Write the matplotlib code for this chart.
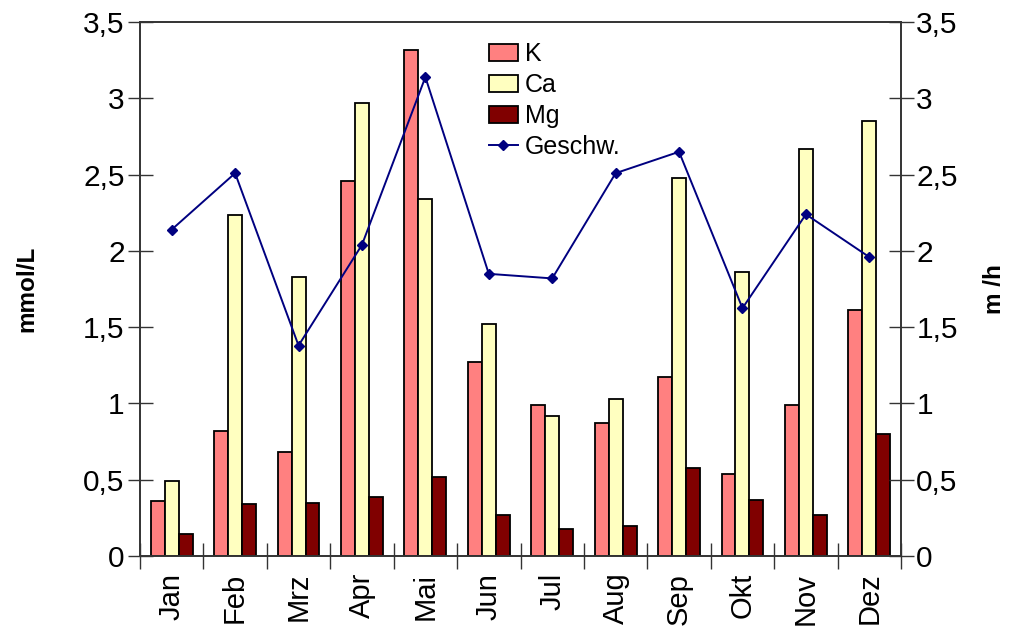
import numpy as np
import matplotlib
matplotlib.use('Agg')
import matplotlib.pyplot as plt
from matplotlib.ticker import FuncFormatter

plt.rcParams['font.family'] = ['Liberation Sans', 'DejaVu Sans']

months = ['Jan', 'Feb', 'Mrz', 'Apr', 'Mai', 'Jun', 'Jul', 'Aug', 'Sep', 'Okt', 'Nov', 'Dez']
k_vals = [0.36, 0.82, 0.68, 2.46, 3.32, 1.27, 0.99, 0.87, 1.175, 0.535, 0.99, 1.61]
ca_vals = [0.49, 2.235, 1.83, 2.97, 2.34, 1.52, 0.92, 1.03, 2.48, 1.86, 2.67, 2.85]
mg_vals = [0.144, 0.34, 0.35, 0.39, 0.52, 0.27, 0.18, 0.20, 0.58, 0.37, 0.27, 0.80]
speed = [2.14, 2.51, 1.38, 2.04, 3.14, 1.85, 1.82, 2.51, 2.65, 1.625, 2.24, 1.96]


def comma(v, pos):
    s = ('%g' % v).replace('.', ',')
    return s


fig = plt.figure(figsize=(10.1, 6.33), dpi=100)
ax = fig.add_axes([0.1386, 0.1216, 0.7535, 0.8434])

x = np.arange(len(months))
w = 0.22
ax.bar(x - w, k_vals, w, color='#FF8080', edgecolor='black', linewidth=1.3, label='K')
ax.bar(x, ca_vals, w, color='#FFFFC0', edgecolor='black', linewidth=1.3, label='Ca')
ax.bar(x + w, mg_vals, w, color='#800000', edgecolor='black', linewidth=1.3, label='Mg')

ax.set_xlim(-0.5, len(months) - 0.5)
ax.set_ylim(0, 3.5)
ax.set_yticks(np.arange(0, 3.51, 0.5))
ax.yaxis.set_major_formatter(FuncFormatter(comma))

# boundaries as major ticks, month names on minor ticks
ax.set_xticks(np.arange(-0.5, len(months), 1.0))
ax.set_xticklabels([])
ax.set_xticks(x, minor=True)
ax.set_xticklabels(months, minor=True, rotation=90, fontsize=21)
ax.tick_params(axis='x', which='minor', length=0, pad=12)
ax.tick_params(axis='x', which='major', direction='inout', length=19, width=1, color='#333333')
ax.tick_params(axis='y', direction='inout', length=18, width=1, labelsize=21.5, pad=2, color='#333333')

for s in ax.spines.values():
    s.set_color('#333333')
    s.set_linewidth(1.2)

ax.set_ylabel('mmol/L', fontsize=17.5, fontweight='bold', labelpad=32)

ax2 = ax.twinx()
ax2.plot(x, speed, color='#000080', linewidth=1.4, marker='D', markersize=5.5, label='Geschw.')
ax2.set_ylim(0, 3.5)
ax2.set_yticks(np.arange(0, 3.51, 0.5))
ax2.yaxis.set_major_formatter(FuncFormatter(comma))
ax2.tick_params(axis='y', direction='inout', length=18, width=1, labelsize=21.5, pad=2, color='#333333')
ax2.set_ylabel('m /h', fontsize=17.5, fontweight='bold', labelpad=18)
for s in ax2.spines.values():
    s.set_color('#333333')
    s.set_linewidth(1.2)

h1, l1 = ax.get_legend_handles_labels()
h2, l2 = ax2.get_legend_handles_labels()
ax2.legend(h1 + h2, l1 + l2, loc='upper left', bbox_to_anchor=(0.432, 1.0),
           frameon=False, fontsize=18, handlelength=1.15, handletextpad=0.3,
           labelspacing=0.28, borderaxespad=0.4)

fig.savefig('out.png', dpi=100)
